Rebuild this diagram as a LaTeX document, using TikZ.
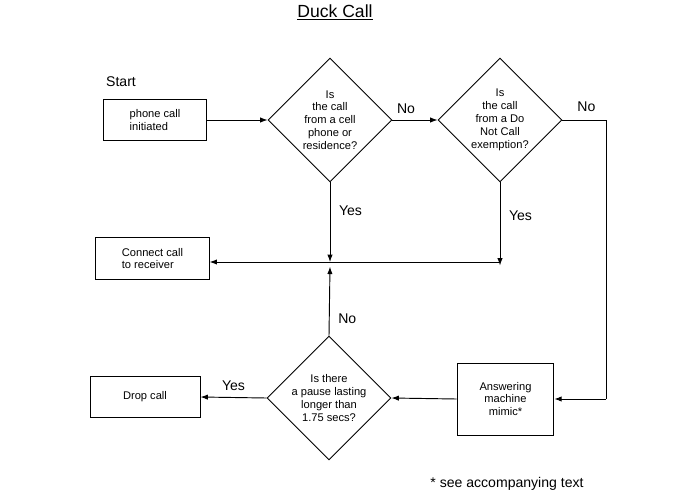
\documentclass[tikz,border=0pt]{standalone}
\usepackage{fontspec}
\setmainfont{Liberation Sans}
\usetikzlibrary{shapes.geometric,arrows.meta}
\tikzset{
  box/.style={draw,thick,minimum width=#1,minimum height=1.25cm,align=left,font=\fontsize{9.5}{11}\selectfont,inner sep=0pt},
  dec/.style={draw,thick,diamond,minimum width=3.72cm,minimum height=3.72cm,inner sep=0pt},
  dtext/.style={align=center,font=\fontsize{9.5}{11}\selectfont},
  lbl/.style={font=\fontsize{12}{14}\selectfont},
  flow/.style={thick,-{Latex[length=2.2mm,width=1.6mm]}},
  line/.style={thick}
}
\begin{document}
\begin{tikzpicture}[x=0.03cm,y=-0.03cm]
\useasboundingbox (0,0) rectangle (695,494);
\node[font=\fontsize{15}{17}\selectfont] (title) at (335,12) {\underline{Duck Call}};
\node[lbl] (start) at (121,82) {Start};

\node[box=3.1cm] (phone) at (155,120) {phone call\\initiated};
\node[box=3.4cm] (connect) at (152.5,258.5) {Connect call\\to receiver};
\node[box=3.3cm] (drop) at (145,397) {Drop call};
\node[box=2.9cm,minimum height=2.16cm,align=center] (answer) at (505.5,399) {Answering\\machine\\mimic*};

\node[dec] (cell) at (330,120) {};
\node[dtext] at (cell) {Is\\the call\\from a cell\\phone or\\residence?};
\node[dec] (dnc) at (500,120) {};
\node[dtext] at (dnc) {Is\\the call\\from a Do\\Not Call\\exemption?};
\node[dec] (pause) at (329,398) {};
\node[dtext] at (pause) {Is there\\a pause lasting\\longer than\\1.75 secs?};

\coordinate (joinC) at (330,262);
\coordinate (joinD) at (500,262);
\coordinate (corner) at (606,120);
\coordinate (down) at (606,399);

% top row
\draw[flow] (phone) -- (cell.west);
\draw[flow] (cell.east) -- (dnc.west) node[lbl,pos=0.3,above=2pt] {No};
\draw[line] (dnc.east) -- (corner) node[lbl,pos=0.55,above=3pt] {No};
\draw[line] (corner) -- (down);
\draw[flow] (down) -- (answer.east);

% yes branches
\draw[flow] (cell.south) -- (joinC) node[lbl,pos=0.35,right=4pt] {Yes};
\draw[flow] (dnc.south) -- ([yshift=-3]joinD) node[lbl,pos=0.4,right=4pt] {Yes};
\draw[flow] (joinD) -- (connect.east |- joinD);

% bottom row
\draw[flow] (answer.west) -- (pause.east);
\draw[flow] (pause.north) -- ([yshift=-4]joinC) node[lbl,pos=0.25,right=4pt] {No};
\draw[flow] (pause.west) -- (drop.east) node[lbl,pos=0.5,above=2pt] {Yes};

\node[font=\fontsize{12}{14}\selectfont] (note) at (507,484) {* see accompanying text};
\end{tikzpicture}
\end{document}
